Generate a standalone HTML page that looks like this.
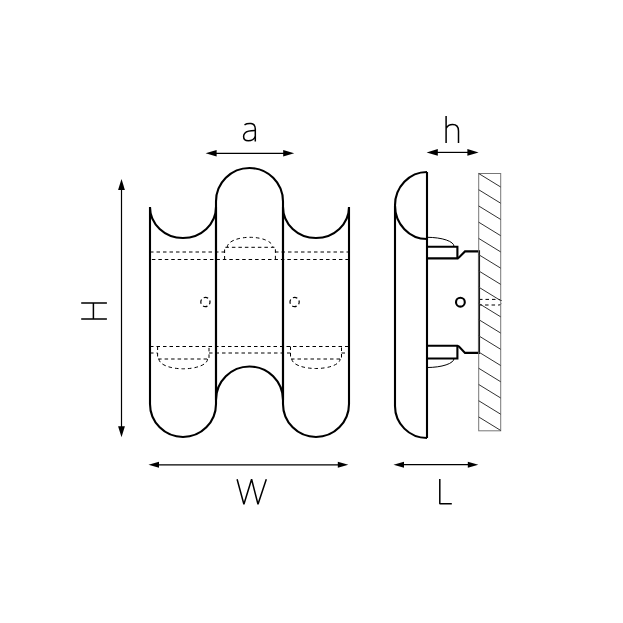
<!DOCTYPE html>
<html><head><meta charset="utf-8"><style>
html,body{margin:0;padding:0;background:#fff;width:623px;height:623px;overflow:hidden;font-family:"Liberation Sans",sans-serif;}
svg{display:block}
</style></head><body>
<svg width="623" height="623" viewBox="0 0 623 623">
<rect width="623" height="623" fill="#fff"/>
<!-- front view outline -->
<g fill="none" stroke="#000" stroke-width="2.1" stroke-linejoin="miter">
  <path d="M150,207 A33,31 0 0 0 216,207 L216,404 A33,33 0 0 1 150,404 Z"/>
  <path d="M216,201.5 A33.5,33.5 0 0 1 283,201.5 L283,400 A33.5,33.5 0 0 0 216,400 Z"/>
  <path d="M283,207 A33,31 0 0 0 349,207 L349,404 A33,33 0 0 1 283,404 Z"/>
</g>
<!-- front view hidden lines -->
<g fill="none" stroke="#000" stroke-width="1" stroke-dasharray="3.5 3">
  <path d="M150,252 H225 M275,252 H349"/>
  <path d="M150,259.5 H349" stroke-dasharray="3.5 2.95" stroke-dashoffset="-1.9"/>
  <path d="M224.6,259.5 V247.3 H275.4 V259.5"/>
  <path d="M227.2,247.3 A22.8,10 0 0 1 272.8,247.3"/>
  <path d="M150,346.5 H349"/>
  <path d="M150,353 H157.6 M209,353 H290.5 M341.5,353 H349"/>
  <path d="M157.6,346.5 V359 H209 V346.5"/>
  <path d="M159,359 A24.3,9.8 0 0 0 207.6,359"/>
  <path d="M290.5,346.5 V359 H341.5 V346.5"/>
  <path d="M291.9,359 A24.1,9.5 0 0 0 340.1,359"/>
  <circle cx="205.4" cy="302" r="4.6" stroke-width="1.2" stroke-dasharray="4.6 2.625" stroke-dashoffset="2.3"/>
  <circle cx="294.6" cy="302" r="4.6" stroke-width="1.2" stroke-dasharray="4.6 2.625" stroke-dashoffset="2.3"/>
</g>
<!-- side view -->
<g fill="none" stroke="#000" stroke-width="2.1" stroke-linejoin="miter">
  <path d="M427,172 A32,33.5 0 0 0 395,205.5 A32,33.5 0 0 0 427,239"/>
  <path d="M395,205.5 V406 A32,32 0 0 0 427,438"/>
  <path d="M427,172 V438"/>
  <path d="M427,246.7 H457.4 V258.4 H427"/>
  <path d="M457.4,258.4 L459,257.5 L465,251.4 H479 V352.9 H465 L459,346.6 L457.4,345.7 H427"/>
  <path d="M457.4,345.7 V358.5 H427"/>
  <circle cx="460.4" cy="302.2" r="4.4"/>
</g>
<g fill="none" stroke="#000" stroke-width="1">
  <path d="M427,237.3 A27,9 0 0 1 454,246.5"/>
  <path d="M427,367.5 A27,9 0 0 0 454,358.5"/>
</g>
<g fill="none" stroke="#000" stroke-width="1" stroke-dasharray="3.5 3">
  <path d="M479,299.4 H499 A2.8,2.8 0 0 1 499,305 H479"/>
</g>
<!-- wall -->
<g fill="none" stroke="#777" stroke-width="1">
  <rect x="478.7" y="173.5" width="22" height="257.3"/>
</g>
<g fill="none" stroke="#333" stroke-width="1"><path d="M478.7,173.50 L500.7,187.00 M478.7,189.73 L500.7,203.23 M478.7,205.96 L500.7,219.46 M478.7,222.19 L500.7,235.69 M478.7,238.42 L500.7,251.92 M478.7,254.65 L500.7,268.15 M478.7,270.88 L500.7,284.38 M478.7,287.11 L500.7,300.61 M478.7,303.34 L500.7,316.84 M478.7,319.57 L500.7,333.07 M478.7,335.80 L500.7,349.30 M478.7,352.03 L500.7,365.53 M478.7,368.26 L500.7,381.76 M478.7,384.49 L500.7,397.99 M478.7,400.72 L500.7,414.22 M478.7,416.95 L500.7,430.45"/></g>
<!-- dimension lines -->
<g stroke="#000" stroke-width="1.2" fill="none">
  <path d="M215,153.3 H284"/>
  <path d="M121.5,189 V427"/>
  <path d="M158,464.8 H338"/>
  <path d="M403,464.7 H468"/>
  <path d="M437,152.4 H468"/>
</g>
<g fill="#000" stroke="none">
  <path d="M205.6,153.3 L216.6,150 L216.6,156.6 Z"/>
  <path d="M294.2,153.3 L283.2,150 L283.2,156.6 Z"/>
  <path d="M121.5,179 L118.1,190 L124.9,190 Z"/>
  <path d="M121.5,437.3 L118.1,426.3 L124.9,426.3 Z"/>
  <path d="M148.5,464.8 L159,461.8 L159,467.8 Z"/>
  <path d="M348.3,464.8 L337.8,461.8 L337.8,467.8 Z"/>
  <path d="M393.5,464.7 L404,461.7 L404,467.7 Z"/>
  <path d="M478.3,464.7 L467.8,461.7 L467.8,467.7 Z"/>
  <path d="M426.6,152.4 L437.8,149 L437.8,155.8 Z"/>
  <path d="M478.6,152.4 L467.4,149 L467.4,155.8 Z"/>
</g>
<!-- letters -->
<g fill="none" stroke="#000" stroke-width="1.5" stroke-linejoin="bevel">
  <path d="M244.5,124.8 C246.5,123.6 249,123.4 251,123.6 C254,124 255.3,126 255.3,129 L255.3,141.5"/>
  <path d="M255,130.6 C250,130.6 246.5,131.5 244.8,133.2 C243.9,134.1 243.6,135.3 243.6,136.5 C243.6,139 245.5,140.8 248.3,140.8 C251.5,140.8 254.3,138.8 255.3,136.5"/>
  <path d="M446.1,116 V143 M446.1,128.5 C447.5,125.8 450,124.6 452.6,124.6 C456.5,124.6 458.5,127 458.5,131 V143"/>
  <path d="M81.2,302.9 H106.9 M81.2,318.9 H106.9 M93.4,302.9 V318.9"/>
  <path d="M237.1,479.3 L243.9,504.3 L251.6,479.3 L258,504.3 L266.3,479.3"/>
  <path d="M439.8,479.1 V503.8 H451.8"/>
</g>
</svg>
</body></html>
